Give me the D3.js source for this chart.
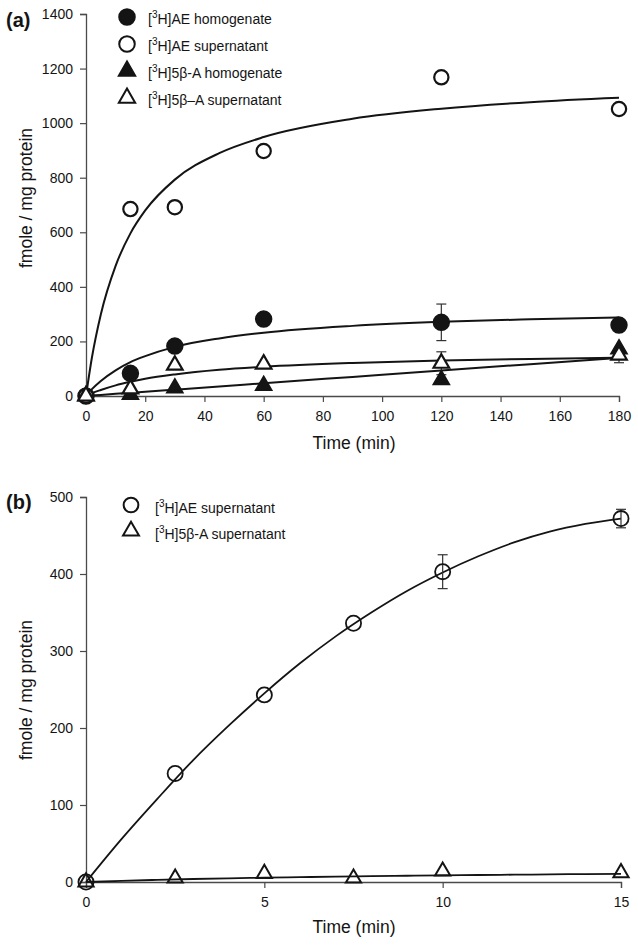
<!DOCTYPE html>
<html><head><meta charset="utf-8">
<script src="https://cdn.jsdelivr.net/npm/d3@7"></script>
<style>
body{margin:0;background:#fff;}
svg{display:block;font-family:"Liberation Sans",Arial,Helvetica,sans-serif;}
</style></head><body>
<svg id="chart" width="638" height="945"></svg>
<script>
// ---------- Panel (a) data ----------
const aTime = [0, 15, 30, 60, 120, 180];
const aAEhom = [0, 83, 183, 282, 270, 260];
const aAEhomErr = [0, 0, 0, 22, 67, 15];
const aAEsup = [0, 685, 692, 898, 1168, 1052];
const a5bAhom = [0, 5, 29, 38, 59, 172];
const a5bAsup = [0, 26, 113, 117, 120, 150];
const a5bAsupErr = [0, 0, 0, 0, 42, 28];
// fitted curves
const aFitTime = [0, 2, 5, 10, 15, 20, 30, 45, 60, 90, 120, 150, 180];
const aFitAEsup = [0, 141, 299, 477, 596, 680, 793, 890, 949, 1016, 1053, 1077, 1093];
const aFitAEhom = [0, 25, 55, 94, 124, 146, 180, 211, 232, 257, 272, 281, 288];
const aFit5bAsup = [0, 10, 22, 39, 52, 63, 79, 96, 107, 121, 130, 136, 140];
const aFit5bAhom = [0, 1.6, 3.9, 7.8, 11.7, 15.6, 23.3, 35, 46.7, 70, 93.3, 116.7, 140];
const aXTicks = [0, 20, 40, 60, 80, 100, 120, 140, 160, 180];
const aYTicks = [0, 200, 400, 600, 800, 1000, 1200, 1400];
const aLegend = [
  {sym: "circle", fill: true, pre: "[", sup: "3", post: "H]AE homogenate"},
  {sym: "circle", fill: false, pre: "[", sup: "3", post: "H]AE supernatant"},
  {sym: "triangle", fill: true, pre: "[", sup: "3", post: "H]5β-A homogenate"},
  {sym: "triangle", fill: false, pre: "[", sup: "3", post: "H]5β–A supernatant"}
];

// ---------- Panel (b) data ----------
const bTime = [0, 2.5, 5, 7.5, 10, 15];
const bAEsup = [0, 141, 243, 336, 403, 472];
const bAEsupErr = [0, 0, 0, 0, 22, 12];
const b5bAsup = [0, 5, 11, 5, 14, 12];
const bFitTime = [0, 1, 2, 3, 4, 5, 6, 7, 8, 9, 10, 11, 12, 13, 14, 15];
const bFitAEsup = [0, 56, 108, 158, 203, 245, 284, 319, 350, 378, 402, 423, 441, 455, 465, 472];
const bFit5bAsup = [0, 1.5, 2.8, 3.9, 4.8, 5.6, 6.3, 7, 7.6, 8.1, 8.6, 9.1, 9.5, 9.9, 10.3, 10.6];
const bXTicks = [0, 5, 10, 15];
const bYTicks = [0, 100, 200, 300, 400, 500];
const bLegend = [
  {sym: "circle", fill: false, pre: "[", sup: "3", post: "H]AE supernatant"},
  {sym: "triangle", fill: false, pre: "[", sup: "3", post: "H]5β-A supernatant"}
];

const svg = d3.select("#chart");
const INK = "#141414";
const AXIS = "#4a4a4a";

function drawAxes(x, y, xTicks, yTicks, yBase, x0) {
  const gx = svg.append("g").attr("transform", `translate(0,${yBase})`)
    .call(d3.axisBottom(x).tickValues(xTicks).tickFormat(d3.format("d"))
      .tickSizeOuter(0).tickSize(6).tickPadding(9));
  const gy = svg.append("g").attr("transform", `translate(${x0},0)`)
    .call(d3.axisLeft(y).tickValues(yTicks).tickFormat(d3.format("d"))
      .tickSizeOuter(0).tickSize(6).tickPadding(7));
  [gx, gy].forEach(g => {
    g.select(".domain").attr("stroke", AXIS).attr("stroke-width", 1.3);
    g.selectAll(".tick line").attr("stroke", AXIS).attr("stroke-width", 1.2);
    g.selectAll(".tick text").attr("fill", INK).attr("font-size", 14)
      .attr("font-family", "Liberation Sans, Arial, sans-serif");
  });
}

function symPath(sym, size) {
  return d3.symbol().type(sym === "circle" ? d3.symbolCircle : d3.symbolTriangle).size(size)();
}

function drawMarkers(x, y, xs, ys, sym, filled, size, sw, openFill) {
  svg.append("g").selectAll("path").data(xs.map((t, i) => [t, ys[i]])).join("path")
    .attr("d", symPath(sym, size))
    .attr("transform", d => `translate(${x(d[0])},${y(d[1])})`)
    .attr("fill", filled ? INK : openFill)
    .attr("stroke", INK).attr("stroke-width", sw);
}

function drawErr(x, y, xs, ys, es, cap) {
  const g = svg.append("g").attr("stroke", "#333").attr("stroke-width", 1.2);
  xs.forEach((t, i) => {
    if (!es[i]) return;
    const cx = x(t), y1 = y(ys[i] + es[i]), y2 = y(ys[i] - es[i]);
    g.append("line").attr("x1", cx).attr("x2", cx).attr("y1", y1).attr("y2", y2);
    g.append("line").attr("x1", cx - cap).attr("x2", cx + cap).attr("y1", y1).attr("y2", y1);
    g.append("line").attr("x1", cx - cap).attr("x2", cx + cap).attr("y1", y2).attr("y2", y2);
  });
}

function drawCurve(x, y, xs, ys, sw) {
  const line = d3.line().x(d => x(d[0])).y(d => y(d[1])).curve(d3.curveMonotoneX);
  svg.append("path").datum(xs.map((t, i) => [t, ys[i]]))
    .attr("d", line).attr("fill", "none").attr("stroke", INK).attr("stroke-width", sw);
}

function legendText(g, item, tx, ty) {
  const t = g.append("text").attr("x", tx).attr("y", ty).attr("font-size", 14).attr("fill", INK);
  t.append("tspan").text(item.pre);
  t.append("tspan").attr("dy", -6).attr("font-size", 10).text(item.sup);
  t.append("tspan").attr("dy", 6).text(item.post);
}

function drawLegend(items, mx, my0, dy, tx, tyOff, size, triSize, sw, openFill) {
  const g = svg.append("g");
  items.forEach((it, i) => {
    const cy = my0 + i * dy;
    g.append("path").attr("d", symPath(it.sym, it.sym === "circle" ? size : triSize))
      .attr("transform", `translate(${mx},${cy})`)
      .attr("fill", it.fill ? INK : openFill).attr("stroke", INK).attr("stroke-width", sw);
    legendText(g, it, tx, cy + tyOff);
  });
}

function yTitle(cx, cy) {
  svg.append("text").attr("transform", `translate(${cx},${cy}) rotate(-90)`)
    .attr("text-anchor", "middle").attr("font-size", 17.5).attr("fill", INK)
    .text("fmole / mg protein");
}
function xTitle(cx, cy) {
  svg.append("text").attr("x", cx).attr("y", cy).attr("text-anchor", "middle")
    .attr("font-size", 17.5).attr("fill", INK).text("Time (min)");
}

// ================= Panel (a) =================
const xa = d3.scaleLinear().domain([0, 180]).range([86, 619]);
const ya = d3.scaleLinear().domain([0, 1400]).range([396, 14]);
drawAxes(xa, ya, aXTicks, aYTicks, 396, 86);
yTitle(32, 198);
xTitle(354, 449);
svg.append("text").attr("x", 6).attr("y", 27).attr("font-size", 20).attr("font-weight", "bold")
  .attr("fill", INK).text("(a)");

drawCurve(xa, ya, aFitTime, aFitAEsup, 2);
drawCurve(xa, ya, aFitTime, aFitAEhom, 2);
drawCurve(xa, ya, aFitTime, aFit5bAsup, 2);
drawCurve(xa, ya, aFitTime, aFit5bAhom, 2);

drawErr(xa, ya, aTime, aAEhom, aAEhomErr, 5);
drawErr(xa, ya, aTime, a5bAsup, a5bAsupErr, 5);

drawMarkers(xa, ya, aTime, aAEhom, "circle", true, 200, 1.5, "#fff");
drawMarkers(xa, ya, aTime, aAEsup, "circle", false, 160, 2.2, "#fff");
drawMarkers(xa, ya, aTime, a5bAhom, "triangle", true, 115, 1.5, "#fff");
drawMarkers(xa, ya, aTime, a5bAsup, "triangle", false, 105, 2.2, "#fff");

drawLegend(aLegend, 127, 17, 27, 148, 7, 190, 115, 2, "#fff");

// ================= Panel (b) =================
const xb = d3.scaleLinear().domain([0, 15]).range([86, 621]);
const yb = d3.scaleLinear().domain([0, 500]).range([882, 497]);
drawAxes(xb, yb, bXTicks, bYTicks, 882, 86);
yTitle(32, 690);
xTitle(354, 933);
svg.append("text").attr("x", 6).attr("y", 509).attr("font-size", 20).attr("font-weight", "bold")
  .attr("fill", INK).text("(b)");

drawCurve(xb, yb, bFitTime, bFitAEsup, 1.8);
drawCurve(xb, yb, bFitTime, bFit5bAsup, 1.8);
drawErr(xb, yb, bTime, bAEsup, bAEsupErr, 5);
drawMarkers(xb, yb, bTime, bAEsup, "circle", false, 180, 1.8, "none");
drawMarkers(xb, yb, bTime, b5bAsup, "triangle", false, 100, 2, "none");

drawLegend(bLegend, 131, 505, 26, 155, 8, 170, 110, 2, "none");
</script>
</body></html>
